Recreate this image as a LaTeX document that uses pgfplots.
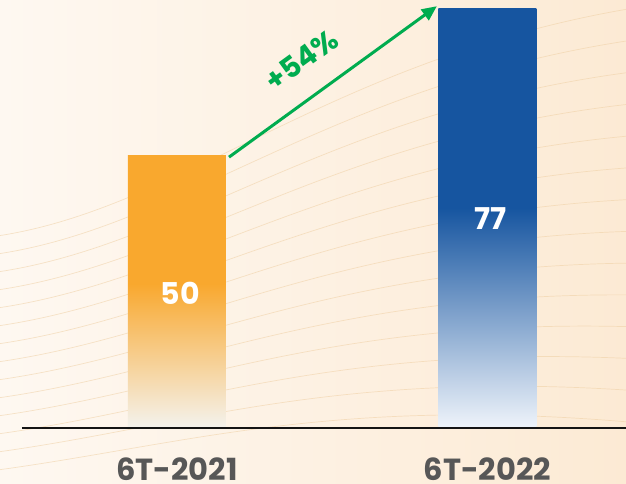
\documentclass[border=0pt]{standalone}
\usepackage{pgfplots}
\pgfplotsset{compat=1.18}
\usetikzlibrary{arrows.meta}
\usepackage{fontspec}
\setmainfont{Poppins}[BoldFont={* Bold}]
\definecolor{oTop}{HTML}{F9A82E}
\definecolor{oBot}{HTML}{F4F2EC}
\definecolor{bTop}{HTML}{1655A0}
\definecolor{bBot}{HTML}{EEF3FA}
\definecolor{bgL}{HTML}{FEF8F1}
\definecolor{bgR}{HTML}{FCEAD4}
\definecolor{wave}{HTML}{EFCFA3}
\definecolor{labgray}{HTML}{575757}
\definecolor{upgreen}{HTML}{00AC4F}
\pgfdeclareverticalshading{orangefade}{100bp}{color(0bp)=(oBot); color(25bp)=(oBot); color(51.4bp)=(oTop); color(100bp)=(oTop)}
\pgfdeclareverticalshading{bluefade}{100bp}{color(0bp)=(bBot); color(25bp)=(bBot); color(51.2bp)=(bTop); color(100bp)=(bTop)}
\begin{document}
\begin{tikzpicture}
\useasboundingbox (0pt,-57pt) rectangle (626pt,427pt);
\shade[left color=bgL, right color=bgR] (0pt,-57pt) rectangle (626pt,427pt);
\begin{scope}
\clip (0pt,-57pt) rectangle (626pt,427pt);
\foreach \k in {0,...,13}{
  \draw[wave, line width=0.7pt, opacity=0.55]
    (-10pt,{(190-18*\k)*1pt}) .. controls (180pt,{(215-18*\k)*1pt}) and (330pt,{(370-26*\k)*1pt}) .. (640pt,{(420-32*\k)*1pt});
}
\end{scope}
\begin{axis}[
  at={(0pt,0pt)}, anchor=south west,
  scale only axis, width=626pt, height=427pt,
  xmin=-0.5700, xmax=1.4461, ymin=0, ymax=78.64,
  axis line style={draw=none},
  ytick=\empty, xtick={0,1}, xticklabels={6T-2021,6T-2022},
  major tick length=0pt,
  xticklabel style={anchor=base, yshift=-54pt, font=\fontsize{30.5}{30.5}\selectfont\bfseries, text=labgray},
  clip=false, bar width=98pt,
]
\addplot[ybar, bar shift=0pt, draw=none, shade, shading=orangefade] coordinates {(0,50)};
\addplot[ybar, bar shift=0pt, draw=none, shade, shading=bluefade] coordinates {(1,77)};
\draw[line width=2.4pt, black!92] (axis cs:-0.4992,-0.18) -- (axis cs:1.4461,-0.18);
\node[text=white, font=\fontsize{30}{30}\selectfont\bfseries] at (axis cs:0.01,24.7) {50};
\node[text=white, font=\fontsize{30}{30}\selectfont\bfseries] at (axis cs:1.01,38.3) {77};
\draw[-{Triangle[length=15pt,width=13pt]}, line width=3pt, upgreen] (axis cs:0.1675,49.7) -- (axis cs:0.837,77.5);
\node[rotate=36, text=upgreen, font=\fontsize{29}{29}\selectfont\bfseries] at (axis cs:0.4026,67.6) {+54\%};
\end{axis}
\end{tikzpicture}
\end{document}
